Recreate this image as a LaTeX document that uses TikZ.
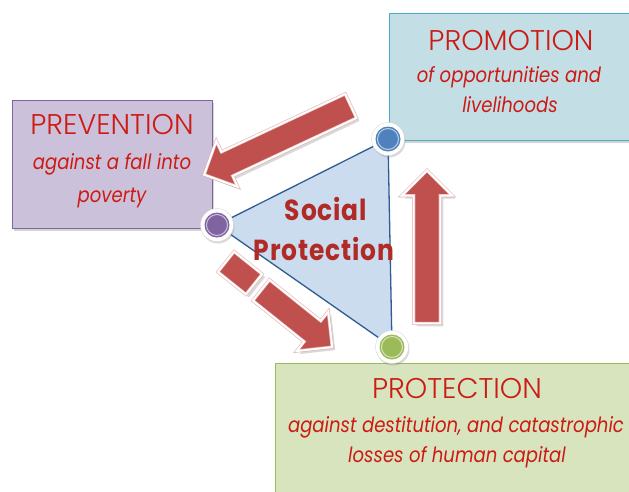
\documentclass[tikz,border=0pt]{standalone}
\usepackage{fontspec}
\setmainfont{Poppins}[FakeStretch=0.86]
\newfontfamily\lightfont{Poppins Light}
\usetikzlibrary{shapes.arrows,shadows}

\definecolor{prevfill}{HTML}{CCC1DA}
\definecolor{prevline}{HTML}{8064A2}
\definecolor{promfill}{HTML}{C4DEE6}
\definecolor{promline}{HTML}{4BACC6}
\definecolor{protfill}{HTML}{D7E4BD}
\definecolor{protline}{HTML}{9BBB59}
\definecolor{trifill}{HTML}{CBDCEE}
\definecolor{triline}{HTML}{2F5C92}
\definecolor{titlered}{HTML}{CC1A14}
\definecolor{socialred}{HTML}{B02A26}
\definecolor{arrowred}{HTML}{C0504D}
\definecolor{dotblue}{HTML}{4F81BD}
\definecolor{dotpurple}{HTML}{8064A2}
\definecolor{dotgreen}{HTML}{9BBB59}

\tikzset{
  panel/.style={draw=#1line, fill=#1fill, line width=1pt, inner sep=0pt,
    drop shadow={opacity=0.35, shadow xshift=2pt, shadow yshift=-3pt}},
  title/.style={anchor=base, text=titlered, inner sep=0pt,
    font=\lightfont\fontsize{28.5}{28.5}\selectfont},
  subtitle/.style={anchor=base, text=titlered, inner sep=0pt,
    font=\fontsize{21}{21}\selectfont\itshape},
  social/.style={anchor=base, inner sep=0pt,
    font=\fontsize{29}{29}\selectfont\bfseries\addfontfeature{LetterSpace=3}},
  dot/.style={circle, minimum size=33pt, inner sep=0pt, fill=white, draw=black!15,
    drop shadow={opacity=0.3, shadow xshift=1pt, shadow yshift=-2pt},
    path picture={
      \fill[#1] (path picture bounding box.center) circle (12.5pt);
      \draw[white!60!#1, line width=1pt] (path picture bounding box.center) circle (10.5pt);}},
  redblock/.style={fill=arrowred, draw=arrowred!45, double=white, double distance=2pt,
    line width=0.6pt, inner sep=0pt,
    drop shadow={opacity=0.3, shadow xshift=3pt, shadow yshift=-3pt}},
  bigarrow/.style={redblock, single arrow, minimum width=50pt,
    single arrow head extend=12pt, inner ysep=13pt},
  arrowpiece/.style={redblock, rectangle, minimum height=26pt}
}

\begin{document}
\begin{tikzpicture}[x=1pt,y=-1pt]
\useasboundingbox (0,0) rectangle (629,491);
% boxes
\node[panel=prev, minimum width=200pt, minimum height=128pt] (prevention) at (112,164) {};
\node[panel=prom, minimum width=246pt, minimum height=127pt] (promotion) at (512,76.5) {};
\node[panel=prot, minimum width=360pt, minimum height=134pt] (protection) at (455,430) {};
% texts of the boxes
\node[title] (prevT) at (112,134) {PREVENTION};
\node[subtitle] (prevA) at (112,169) {against a fall into};
\node[subtitle] (prevB) at (112,202) {poverty};
\node[title] (promT) at (511,50) {PROMOTION};
\node[subtitle] (promA) at (509,82) {of opportunities and};
\node[subtitle] (promB) at (510,112) {livelihoods};
\node[title] (protT) at (457,398) {PROTECTION};
\node[subtitle] (protA) at (456,432) {against destitution, and catastrophic};
\node[subtitle] (protB) at (457,462) {losses of human capital};
% triangle
\coordinate (pB) at (388,139);
\coordinate (pP) at (217,225);
\coordinate (pG) at (392,347);
\filldraw[fill=trifill, draw=triline, line width=1.3pt, line join=round] (pB) -- (pP) -- (pG) -- cycle;
% arrows
\node[bigarrow, minimum height=162pt, rotate=205.1] (toprev) at (283.5,137.5) {};
\node[bigarrow, minimum height=153pt, rotate=90] (toprom) at (427,253.5) {};
\node[arrowpiece, minimum width=36pt, rotate=-38.7] (tail) at (240,273) {};
\node[bigarrow, minimum height=91pt, rotate=-38.7] (toprot) at (291.5,314.5) {};
% dots
\node[dot=dotblue] (promdot) at (pB) {};
\node[dot=dotpurple] (prevdot) at (pP) {};
\node[dot=dotgreen] (protdot) at (pG) {};
% centre text
\node[social, text=socialred] (socA) at (326,220) {Social};
\node[social, text=socialred] (socB) at (324,260) {Protection};
\end{tikzpicture}
\end{document}
